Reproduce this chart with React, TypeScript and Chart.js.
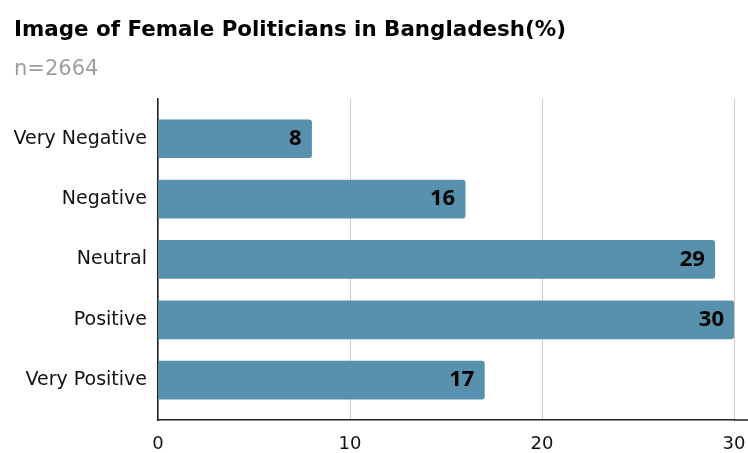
import React, { useEffect, useRef } from "react";
import { Chart, registerables } from "chart.js";

Chart.register(...registerables);

const categories = ["Very Negative", "Negative", "Neutral", "Positive", "Very Positive"];
const values = [8, 16, 29, 30, 17];
const xTicks = [0, 10, 20, 30];
const titleText = "Image of Female Politicians in Bangladesh(%)";
const subtitleText = "n=2664";

const BAR_COLOR = "#5891ae";
const FONT = "'DejaVu Sans', sans-serif";

const dataLabelPlugin = {
  id: "dataLabels",
  afterDatasetsDraw(chart: any) {
    const ctx = chart.ctx;
    const meta = chart.getDatasetMeta(0);
    ctx.save();
    ctx.font = "bold 22px 'Open Sans'";
    ctx.fillStyle = "#000";
    ctx.textAlign = "right";
    ctx.textBaseline = "middle";
    meta.data.forEach((el: any, i: number) => {
      ctx.fillText(String(values[i]), el.x - 10, el.y);
    });
    ctx.restore();
  },
};

const axisExtendPlugin = {
  id: "axisExtend",
  afterDraw(chart: any) {
    const { ctx, chartArea } = chart;
    ctx.save();
    ctx.strokeStyle = "#222";
    ctx.lineWidth = 1.5;
    ctx.beginPath();
    ctx.moveTo(chartArea.right, chartArea.bottom);
    ctx.lineTo(chart.width, chartArea.bottom);
    ctx.stroke();
    ctx.restore();
  },
};

export default function App() {
  const ref = useRef<HTMLCanvasElement | null>(null);
  useEffect(() => {
    document.body.style.margin = "0";
    const chart = new Chart(ref.current as HTMLCanvasElement, {
      type: "bar",
      data: {
        datasets: [
          {
            data: values.map((v, i) => ({ x: v, y: i })),
            backgroundColor: BAR_COLOR,
            borderRadius: 3,
            borderSkipped: "start",
            barThickness: 38,
          },
        ],
      },
      options: {
        indexAxis: "y",
        animation: false,
        responsive: false,
        maintainAspectRatio: false,
        layout: { padding: { left: 14, right: 14, top: 0, bottom: 0 } },
        plugins: {
          legend: { display: false },
          tooltip: { enabled: false },
          title: {
            display: true,
            text: titleText,
            align: "start",
            color: "#000",
            font: { family: FONT, size: 21.4, weight: "bold" },
            padding: { top: 18, bottom: 6 },
          },
          subtitle: {
            display: true,
            text: subtitleText,
            align: "start",
            color: "#9e9e9e",
            font: { family: FONT, size: 21 },
            padding: { top: 7, bottom: 17 },
          },
        },
        scales: {
          x: {
            type: "linear",
            position: "bottom",
            min: 0,
            max: 30,
            afterBuildTicks: (scale: any) => {
              scale.ticks = xTicks.map((v) => ({ value: v }));
            },
            afterFit: (scale: any) => {
              scale.height = 33;
              scale.paddingLeft = 0;
              scale.paddingRight = 0;
            },
            grid: { color: "#cccccc", lineWidth: 1, drawTicks: false },
            border: { display: true, color: "#222", width: 1.5 },
            ticks: {
              color: "#111",
              padding: 14,
              font: { family: FONT, size: 18 },
            },
          },
          y: {
            type: "linear",
            reverse: true,
            offset: false,
            min: -0.66,
            max: 4.66,
            afterBuildTicks: (scale: any) => {
              scale.ticks = categories.map((_, i) => ({ value: i }));
            },
            afterFit: (scale: any) => {
              scale.width = 158 - 14;
              scale.paddingTop = 0;
              scale.paddingBottom = 0;
            },
            grid: { display: false, drawTicks: false },
            border: { display: true, color: "#222", width: 1.5 },
            ticks: {
              color: "#111",
              padding: 11,
              font: { family: FONT, size: 19 },
              callback: (v: any) => categories[v as number] ?? "",
            },
          },
        },
      },
      plugins: [dataLabelPlugin, axisExtendPlugin],
    } as any);
    return () => chart.destroy();
  }, []);
  return (
    <div style={{ position: "absolute", left: 0, top: 0, width: 748, height: 453 }}>
      <canvas ref={ref} width={748} height={453} style={{ width: 748, height: 453 }} />
    </div>
  );
}
